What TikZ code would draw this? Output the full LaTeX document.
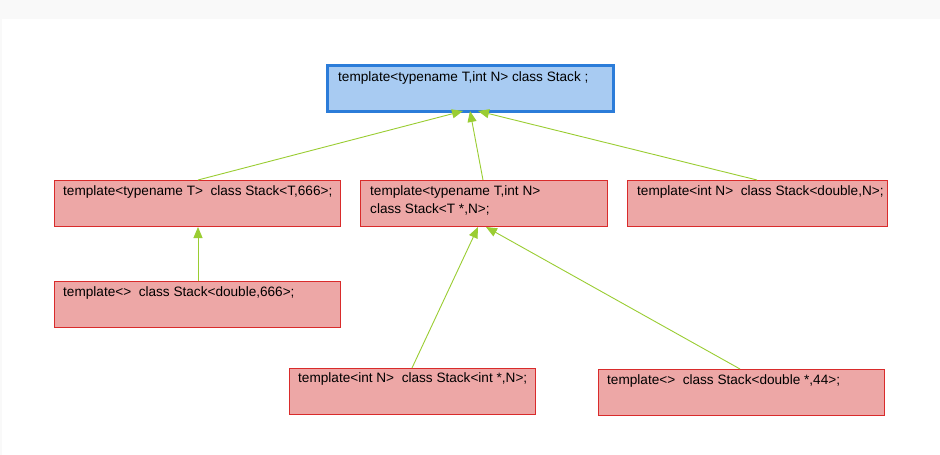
\documentclass[tikz,border=0pt]{standalone}
\usepackage{fontspec}
\setmainfont{Liberation Sans}
\usetikzlibrary{arrows.meta}
\definecolor{redfill}{HTML}{EDA7A6}
\definecolor{redline}{HTML}{D92B2B}
\definecolor{bluefill}{HTML}{A8CBF2}
\definecolor{blueline}{HTML}{2B7CD9}
\definecolor{arrowgreen}{HTML}{9ACD32}
\definecolor{stripgray}{HTML}{F9F9F9}
\tikzset{
  redbox/.style={draw=redline, fill=redfill, line width=1pt, inner sep=0pt, anchor=north west},
  bluebox/.style={draw=blueline, fill=bluefill, line width=3pt, inner sep=0pt, anchor=north west},
  lbl/.style={anchor=north west, inner sep=0pt, font=\fontsize{13.6pt}{18pt}\selectfont, align=left},
  inherit/.style={draw=arrowgreen, line width=0.9pt, -{Triangle[length=11pt,width=9pt]}}
}
\begin{document}
\begin{tikzpicture}[x=1pt,y=-1pt]
\useasboundingbox (0,0) rectangle (940,455);
\fill[white] (0,0) rectangle (940,455);
\fill[stripgray] (0,0) rectangle (940,19);
\fill[stripgray] (0,19) rectangle (1.5,455);
% boxes
\node[bluebox, minimum width=286pt, minimum height=46pt] (top) at (326,64) {};
\node[redbox, minimum width=286pt, minimum height=46pt] (b1) at (54,180) {};
\node[redbox, minimum width=247pt, minimum height=46pt] (b2) at (360,180) {};
\node[redbox, minimum width=260pt, minimum height=46pt] (b3) at (627,180) {};
\node[redbox, minimum width=286pt, minimum height=46pt] (b4) at (54,281) {};
\node[redbox, minimum width=246pt, minimum height=46pt] (b5) at (289,368) {};
\node[redbox, minimum width=286pt, minimum height=46pt] (b6) at (598,369) {};
% labels
\node[lbl] (ttop) at ([xshift=12pt,yshift=-7pt]top.north west) {template<typename T,int N> class Stack ;};
\node[lbl] (t1) at ([xshift=9pt,yshift=-5.5pt]b1.north west) {template<typename T>\ \ class Stack<T,666>;};
\node[lbl] (t2) at ([xshift=10pt,yshift=-5.5pt]b2.north west) {template<typename T,int N>\\class Stack<T *,N>;};
\node[lbl] (t3) at ([xshift=10pt,yshift=-5.5pt]b3.north west) {template<int N>\ \ class Stack<double,N>;};
\node[lbl] (t4) at ([xshift=9pt,yshift=-5.5pt]b4.north west) {template<>\ \ class Stack<double,666>;};
\node[lbl] (t5) at ([xshift=9pt,yshift=-4pt]b5.north west) {template<int N>\ \ class Stack<int *,N>;};
\node[lbl] (t6) at ([xshift=9pt,yshift=-5pt]b6.north west) {template<>\ \ class Stack<double *,44>;};
% coordinates for connector ends
\coordinate (p1) at (463,111);
\coordinate (p2) at (470,111);
\coordinate (p3) at (478,111);
\coordinate (q1) at (198,180);
\coordinate (q2) at (483,180);
\coordinate (q3) at (757,180);
\coordinate (q4) at (198,281);
\coordinate (r1) at (198,227);
\coordinate (q5) at (412,368);
\coordinate (r5) at (478,227);
\coordinate (q6) at (740,369);
\coordinate (r6) at (486,227);
\draw[inherit] (q1) -- (p1);
\draw[inherit] (q2) -- (p2);
\draw[inherit] (q3) -- (p3);
\draw[inherit] (q4) -- (r1);
\draw[inherit] (q5) -- (r5);
\draw[inherit] (q6) -- (r6);
\end{tikzpicture}
\end{document}
